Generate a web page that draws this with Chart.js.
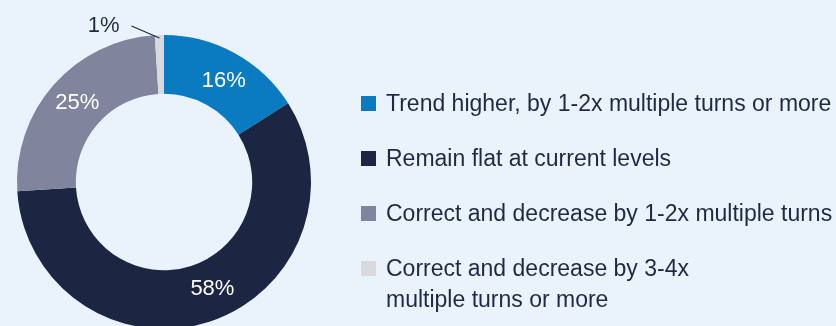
<!DOCTYPE html>
<html>
<head>
<meta charset="utf-8">
<script src="https://cdn.jsdelivr.net/npm/chart.js@4/dist/chart.umd.min.js"></script>
<style>
  html, body { margin: 0; padding: 0; background: #eaf3fb; overflow: hidden; }
  #wrap { position: relative; width: 836px; height: 330px; }
  #legend {
    position: absolute; left: 361px; top: 88px; margin: 0; padding: 0; list-style: none;
    font-family: "Liberation Sans", Arial, sans-serif; font-size: 23px; color: #1e2a45;
  }
  #legend li { position: relative; padding-left: 25px; height: 55px; line-height: 31px; white-space: nowrap; }
  #legend li span.box { position: absolute; left: 0; top: 8px; width: 15px; height: 15px; }
</style>
</head>
<body>
<div id="wrap">
  <canvas id="myChart" width="836" height="330"></canvas>
  <ul id="legend"></ul>
</div>
<script>
// Survey answers, clockwise from 12 o'clock
let answers = [
  'Trend higher, by 1-2x multiple turns or more',
  'Remain flat at current levels',
  'Correct and decrease by 1-2x multiple turns',
  ['Correct and decrease by 3-4x', 'multiple turns or more']
];
let shares = [16, 58, 25, 1];
let sliceColors = ['#0b7bc1', '#1a2642', '#80849c', '#d8dadd'];

// legend on the right
let legendList = document.getElementById('legend');
for (let i = 0; i < answers.length; i++) {
  let li = document.createElement('li');
  let box = document.createElement('span');
  box.className = 'box';
  box.style.background = sliceColors[i];
  li.appendChild(box);
  let text = Array.isArray(answers[i]) ? answers[i].join('<br>') : answers[i];
  li.insertAdjacentHTML('beforeend', text);
  legendList.appendChild(li);
}

// percent labels: inside the ring, or outside with a leader line for tiny slices
const sliceLabels = {
  id: 'sliceLabels',
  afterDatasetsDraw(chart, args, opts) {
    let ctx = chart.ctx;
    let meta = chart.getDatasetMeta(0);
    ctx.save();
    ctx.font = '22px "Liberation Sans", Arial, sans-serif';
    ctx.textBaseline = 'middle';
    meta.data.forEach((arc, i) => {
      let p = arc.getProps(['x', 'y', 'startAngle', 'endAngle', 'innerRadius', 'outerRadius']);
      let value = chart.data.datasets[0].data[i];
      let mid = (p.startAngle + p.endAngle) / 2 + (opts.nudge[i] || 0);
      let text = value + '%';
      if (value < 3) {
        let ex = p.x + Math.cos(mid) * (p.outerRadius - 3);
        let ey = p.y + Math.sin(mid) * (p.outerRadius - 3);
        let sx = ex - 28, sy = ey - 12;
        ctx.strokeStyle = '#1e2a45';
        ctx.lineWidth = 1.2;
        ctx.beginPath();
        ctx.moveTo(sx, sy);
        ctx.lineTo(ex, ey);
        ctx.stroke();
        ctx.fillStyle = '#1e2a45';
        ctx.textAlign = 'right';
        ctx.fillText(text, sx - 12, sy);
      } else {
        let r = (p.innerRadius + p.outerRadius) / 2;
        ctx.fillStyle = '#ffffff';
        ctx.textAlign = 'center';
        ctx.fillText(text, p.x + Math.cos(mid) * r, p.y + Math.sin(mid) * r);
      }
    });
    ctx.restore();
  }
};

let ctx = document.getElementById('myChart').getContext('2d');
let myChart = new Chart(ctx, {
  type: 'doughnut',
  data: {
    labels: answers,
    datasets: [{
      data: shares,
      backgroundColor: sliceColors,
      borderWidth: 0
    }]
  },
  options: {
    responsive: false,
    animation: false,
    cutout: '60%',
    layout: { padding: { left: 17, right: 525, top: 35, bottom: 1 } },
    plugins: {
      legend: { display: false },
      tooltip: { enabled: false },
      sliceLabels: { nudge: [0.03, -0.11, 0.02, 0] }
    }
  },
  plugins: [sliceLabels]
});
</script>
</body>
</html>
